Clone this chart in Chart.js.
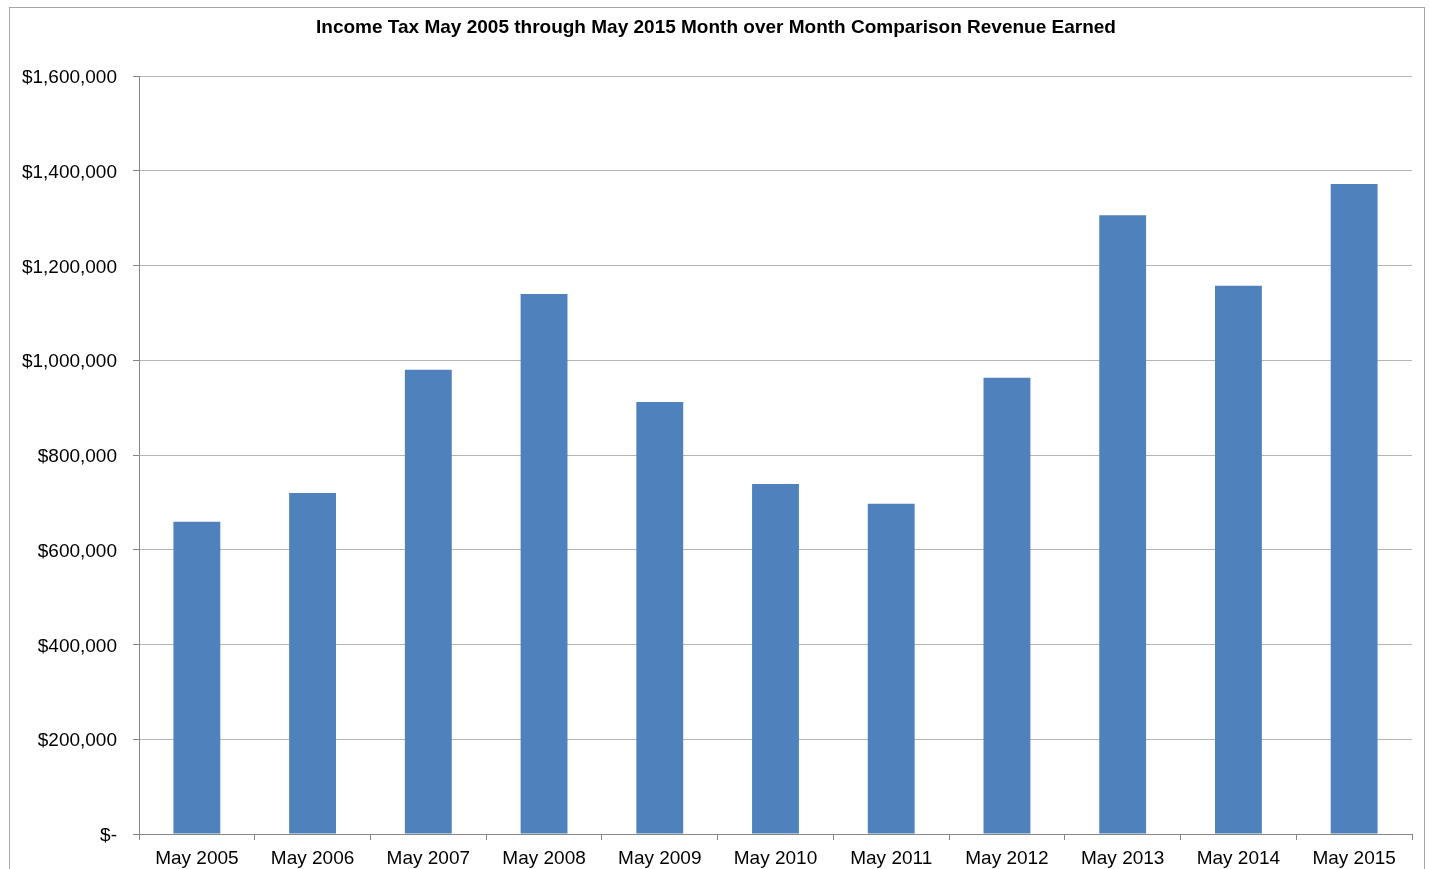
<!DOCTYPE html>
<html>
<head>
<meta charset="utf-8">
<script src="https://cdn.jsdelivr.net/npm/chart.js@4/dist/chart.umd.min.js"></script>
<style>
  html, body { margin: 0; padding: 0; background: #fff; }
  #wrap { width: 1429px; height: 869px; position: relative; }
</style>
</head>
<body>
<div id="wrap"><canvas id="myChart" width="1429" height="869"></canvas></div>
<script>
const titleText = "Income Tax May 2005 through May 2015 Month over Month Comparison Revenue Earned";

const months = [
  "May 2005", "May 2006", "May 2007", "May 2008", "May 2009", "May 2010",
  "May 2011", "May 2012", "May 2013", "May 2014", "May 2015",
];

const revenue = [
  659000, 720000, 980000, 1140000, 912000, 739000,
  697000, 963000, 1306000, 1157000, 1372000,
];

const yTicks = [0, 200000, 400000, 600000, 800000, 1000000, 1200000, 1400000, 1600000];

const barColor = "#4F81BD";
const gridColor = "#b4b4b4";
const axisColor = "#868686";

// outer frame + title, drawn straight on the canvas
const frame = {
  id: "frame",
  beforeDraw(chart) {
    const ctx = chart.ctx;
    ctx.save();
    ctx.fillStyle = "#fff";
    ctx.fillRect(0, 0, chart.width, chart.height);
    ctx.strokeStyle = "#a6a6a6";
    ctx.lineWidth = 1;
    ctx.strokeRect(9.5, 7.5, 1415, 880);
    ctx.restore();
  },
  afterDraw(chart) {
    const ctx = chart.ctx;
    ctx.save();
    ctx.fillStyle = "#000";
    ctx.font = "bold 19px 'Liberation Sans', Arial, sans-serif";
    ctx.textAlign = "center";
    ctx.textBaseline = "middle";
    ctx.fillText(titleText, 716, 28);
    ctx.restore();
  },
};

const chart = new Chart("myChart", {
  type: "bar",
  data: {
    labels: months,
    datasets: [
      {
        data: revenue,
        backgroundColor: barColor,
        borderWidth: 0,
        categoryPercentage: 1,
        barPercentage: 0.405,
      },
    ],
  },
  options: {
    responsive: false,
    animation: false,
    layout: {
      padding: { top: 76, right: 17, left: 0, bottom: 0 },
    },
    plugins: {
      legend: { display: false },
      title: { display: false },
      tooltip: { enabled: false },
    },
    scales: {
      x: {
        grid: {
          drawOnChartArea: false,
          drawTicks: true,
          tickLength: 6,
          color: axisColor,
        },
        border: { color: axisColor },
        ticks: {
          color: "#000",
          padding: 7,
          maxRotation: 0,
          font: { family: "'Liberation Sans', Arial, sans-serif", size: 19 },
        },
        afterFit(scale) {
          scale.height = 35;
        },
      },
      y: {
        min: 0,
        max: 1600000,
        afterBuildTicks(scale) {
          scale.ticks = yTicks.map((v) => ({ value: v }));
        },
        grid: {
          color: gridColor,
          tickLength: 6,
          tickColor: axisColor,
        },
        border: { color: axisColor },
        ticks: {
          color: "#000",
          padding: 16,
          labelOffset: 2,
          font: { family: "'Liberation Sans', Arial, sans-serif", size: 19 },
          callback: (v) => (v === 0 ? "$-" : "$" + v.toLocaleString("en-US")),
        },
        afterFit(scale) {
          scale.width = 139;
        },
      },
    },
  },
  plugins: [frame],
});
</script>
</body>
</html>
